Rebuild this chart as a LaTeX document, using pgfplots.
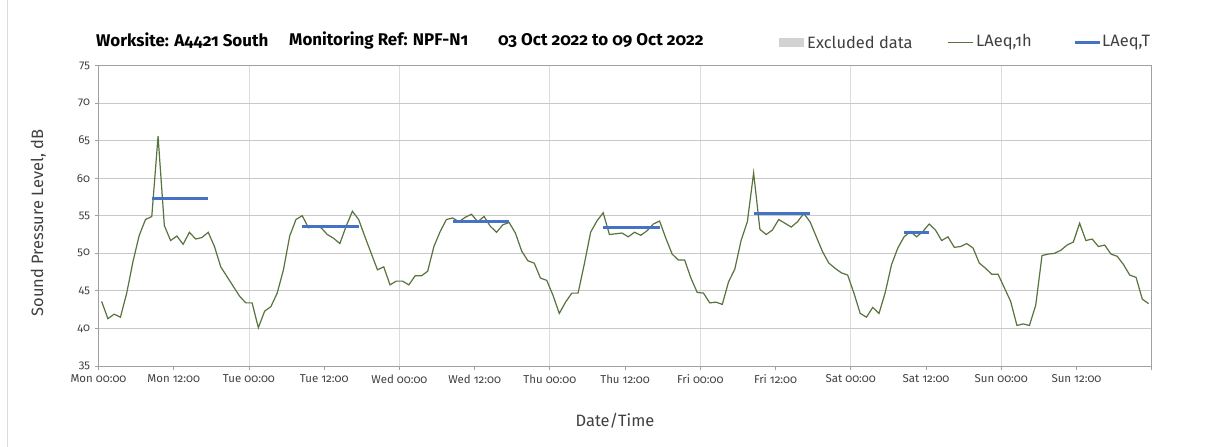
\documentclass[border=0pt]{standalone}
\usepackage{pgfplots}
\pgfplotsset{compat=1.18}
\usepackage{pgfplotstable}
\usepackage{fontspec}
\setmainfont{Fira Sans}[Numbers=OldStyle]
\definecolor{lgreen}{RGB}{88,115,62}
\definecolor{lblue}{RGB}{68,114,196}
\definecolor{hgrid}{RGB}{200,200,200}
\definecolor{vgrid}{RGB}{220,220,220}
\definecolor{axgray}{RGB}{160,160,160}
\definecolor{exgray}{RGB}{210,210,210}
\definecolor{txt}{RGB}{64,64,64}

\pgfplotstableread{
x v
0.5 43.6
1.5 41.3
2.5 41.9
3.5 41.5
4.5 44.7
5.5 48.9
6.5 52.4
7.5 54.5
8.5 54.9
9.5 65.6
10.5 53.7
11.5 51.7
12.5 52.3
13.5 51.2
14.5 52.8
15.5 51.9
16.5 52.1
17.5 52.8
18.5 50.9
19.5 48.2
20.5 46.9
21.5 45.6
22.5 44.3
23.5 43.4
24.5 43.4
25.5 40.1
26.5 42.3
27.5 42.9
28.5 44.7
29.5 47.8
30.5 52.3
31.5 54.5
32.5 55.0
33.5 53.4
34.5 53.6
35.5 53.4
36.5 52.5
37.5 52.0
38.5 51.3
39.5 53.6
40.5 55.6
41.5 54.5
42.5 52.2
43.5 50.0
44.5 47.8
45.5 48.2
46.5 45.8
47.5 46.3
48.5 46.3
49.5 45.8
50.5 47.0
51.5 47.0
52.5 47.6
53.5 50.9
54.5 52.9
55.5 54.5
56.5 54.7
57.5 54.2
58.5 54.8
59.5 55.2
60.5 54.2
61.5 54.9
62.5 53.6
63.5 52.8
64.5 53.8
65.5 54.1
66.5 52.7
67.5 50.3
68.5 49.0
69.5 48.7
70.5 46.7
71.5 46.4
72.5 44.4
73.5 42.0
74.5 43.5
75.5 44.7
76.5 44.7
77.5 48.6
78.5 52.8
79.5 54.3
80.5 55.4
81.5 52.5
82.5 52.6
83.5 52.7
84.5 52.2
85.5 52.8
86.5 52.4
87.5 53.0
88.5 53.9
89.5 54.3
90.5 52.0
91.5 49.9
92.5 49.1
93.5 49.1
94.5 46.7
95.5 44.8
96.5 44.7
97.5 43.4
98.5 43.5
99.5 43.2
100.5 46.2
101.5 47.9
102.5 51.7
103.5 54.2
104.5 60.7
105.5 53.2
106.5 52.5
107.5 53.1
108.5 54.5
109.5 54.0
110.5 53.5
111.5 54.2
112.5 55.3
113.5 54.2
114.5 52.2
115.5 50.2
116.5 48.7
117.5 48.0
118.5 47.4
119.5 47.1
120.5 44.7
121.5 42.0
122.5 41.5
123.5 42.8
124.5 42.0
125.5 44.8
126.5 48.5
127.5 50.7
128.5 52.2
129.5 52.9
130.5 52.2
131.5 52.9
132.5 53.9
133.5 53.1
134.5 51.7
135.5 52.2
136.5 50.8
137.5 50.9
138.5 51.3
139.5 50.7
140.5 48.7
141.5 48.0
142.5 47.2
143.5 47.2
144.5 45.4
145.5 43.6
146.5 40.4
147.5 40.6
148.5 40.4
149.5 43.1
150.5 49.7
151.5 49.9
152.5 50.0
153.5 50.4
154.5 51.1
155.5 51.5
156.5 54.0
157.5 51.7
158.5 51.9
159.5 50.9
160.5 51.1
161.5 49.9
162.5 49.6
163.5 48.5
164.5 47.1
165.5 46.8
166.5 43.9
167.5 43.3
}\hourly

\begin{document}
\begin{tikzpicture}
\useasboundingbox (0,0) rectangle (1205bp,447bp);
\fill[white] (0,0) rectangle (1205bp,447bp);
\draw[vgrid, line width=0.8bp] (7bp,0) -- (7bp,447bp);
\begin{axis}[
  at={(98.5bp,81bp)}, anchor=south west,
  scale only axis, width=1053.2bp, height=300.5bp,
  xmin=0, xmax=168, ymin=35, ymax=75,
  xtick={0,24,...,168},
  xticklabels={Mon 00:00,Tue 00:00,Wed 00:00,Thu 00:00,Fri 00:00,Sat 00:00,Sun 00:00,{}},
  extra x ticks={12,36,...,156},
  extra x tick labels={Mon 12:00,Tue 12:00,Wed 12:00,Thu 12:00,Fri 12:00,Sat 12:00,Sun 12:00},
  extra x tick style={grid=none},
  ytick={35,40,...,75},
  xmajorgrids, ymajorgrids,
  x grid style={vgrid, line width=0.8bp},
  y grid style={hgrid, line width=0.9bp},
  axis line style={axgray, line width=0.9bp},
  tick style={axgray, line width=0.9bp},
  tick align=outside,
  major tick length=4bp,
  xtick pos=bottom, ytick pos=left,
  /pgf/number format/assume math mode=true,
  ticklabel style={font=\fontsize{11.5}{12}\selectfont, text=txt},
  xticklabel style={yshift=-1bp},
  yticklabel style={xshift=-1bp},
]
\addplot[lgreen, line width=1.2bp] table[x=x,y=v] {\hourly};
\addplot[lblue, line width=2.6bp] coordinates {(8.5,57.3) (17.5,57.3)};
\addplot[lblue, line width=2.6bp] coordinates {(32.5,53.6) (41.5,53.6)};
\addplot[lblue, line width=2.6bp] coordinates {(56.5,54.2) (65.5,54.2)};
\addplot[lblue, line width=2.6bp] coordinates {(80.5,53.4) (89.5,53.4)};
\addplot[lblue, line width=2.6bp] coordinates {(104.5,55.3) (113.5,55.3)};
\addplot[lblue, line width=2.6bp] coordinates {(128.5,52.8) (132.5,52.8)};
\end{axis}
% axis titles
\node[rotate=90, text=txt, font=\fontsize{16.5}{17}\selectfont] at (38.3bp,224bp) {Sound Pressure Level, dB};
\node[text=txt, font=\fontsize{16.5}{17}\selectfont] at (615bp,26bp) {Date/Time};
% title
\node[anchor=west, inner sep=0pt, font=\bfseries\fontsize{17}{18}\selectfont] at (96bp,406bp) {Worksite: A4421 South};
\node[anchor=west, inner sep=0pt, font=\bfseries\fontsize{17}{18}\selectfont] at (289bp,406bp) {Monitoring Ref: NPF-N1};
\node[anchor=west, inner sep=0pt, font=\bfseries\fontsize{17}{18}\selectfont] at (498bp,406bp) {03 Oct 2022 to 09 Oct 2022};
% legend
\fill[exgray] (779bp,400bp) rectangle (804bp,409bp);
\node[anchor=west, inner sep=0pt, text=txt, font=\fontsize{16.5}{17}\selectfont] at (807bp,404.5bp) {Excluded data};
\draw[lgreen, line width=1.2bp] (948bp,404.5bp) -- (973bp,404.5bp);
\node[anchor=west, inner sep=0pt, text=txt, font=\fontsize{16.5}{17}\selectfont] at (976bp,404.5bp) {LAeq,1h};
\draw[lblue, line width=2.6bp] (1075bp,404.5bp) -- (1100bp,404.5bp);
\node[anchor=west, inner sep=0pt, text=txt, font=\fontsize{16.5}{17}\selectfont] at (1102bp,404.5bp) {LAeq,T};
\end{tikzpicture}
\end{document}
